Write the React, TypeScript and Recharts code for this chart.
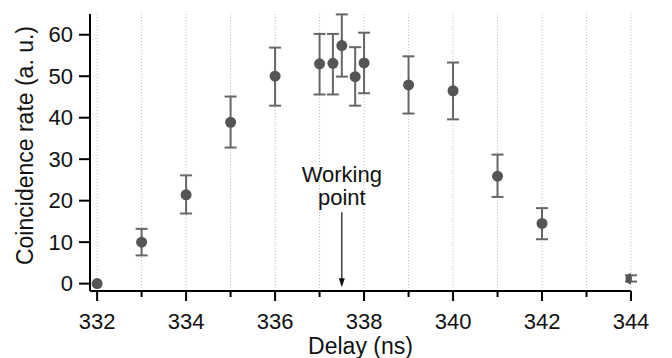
import React from 'react';
import { ComposedChart, Scatter, XAxis, YAxis, CartesianGrid, ErrorBar, ReferenceLine } from 'recharts';

const delays = [332, 333, 334, 335, 336, 337, 337.3, 337.5, 337.8, 338, 339, 340, 341, 342, 344];
const rates = [0, 10, 21.4, 38.9, 50, 53, 53.1, 57.4, 49.9, 53.2, 47.9, 46.5, 25.9, 14.5, 1.2];
const lowerBound = [0, 6.8, 16.9, 32.8, 42.9, 45.6, 45.6, 49.9, 42.9, 45.9, 41, 39.6, 20.9, 10.7, 0.5];
const upperBound = [0, 13.2, 26.1, 45.1, 56.9, 60.2, 60.2, 64.9, 57, 60.5, 54.8, 53.3, 31.1, 18.2, 2.0];
const xTicks = [332, 333, 334, 335, 336, 337, 338, 339, 340, 341, 342, 343, 344];
const yTicks = [0, 10, 20, 30, 40, 50, 60];
const workingPoint = 337.5;
const annotationLines = ['Working', 'point'];

const data = delays.map((d, i) => ({
  delay: d,
  rate: rates[i],
  err: upperBound[i] - lowerBound[i] > 0 ? [rates[i] - lowerBound[i], upperBound[i] - rates[i]] : null,
}));

const FONT = 'Arial, "Liberation Sans", sans-serif';

const XTick = (props: any) => {
  const { x, y, payload } = props;
  const v = payload.value;
  const major = v % 2 === 0;
  return (
    <g>
      <line x1={x} x2={x} y1={y} y2={y + (major ? 10 : 6)} stroke="#000" strokeWidth={2} />
      {major && (
        <text x={x} y={y + 30} textAnchor="middle" dominantBaseline="central" fontSize={22} fontFamily={FONT} fill="#111">
          {v}
        </text>
      )}
    </g>
  );
};

const YTick = (props: any) => {
  const { x, y, payload } = props;
  return (
    <g>
      <line x1={x - 11} x2={x} y1={y} y2={y} stroke="#000" strokeWidth={2} />
      <text x={x - 17} y={y} textAnchor="end" dominantBaseline="central" fontSize={22} fontFamily={FONT} fill="#111">
        {payload.value}
      </text>
    </g>
  );
};

const XLabel = (props: any) => {
  const vb = props.viewBox;
  return (
    <text x={vb.x + vb.width / 2} y={vb.y + 55} textAnchor="middle" dominantBaseline="central" fontSize={23} fontFamily={FONT} fill="#111">
      Delay (ns)
    </text>
  );
};

const YLabel = (props: any) => {
  const vb = props.viewBox;
  const cx = 25;
  const cy = vb.y + vb.height / 2 - 7;
  return (
    <text x={cx} y={cy} transform={`rotate(-90 ${cx} ${cy})`} textAnchor="middle" dominantBaseline="central" fontSize={23} fontFamily={FONT} fill="#111">
      Coincidence rate (a. u.)
    </text>
  );
};

const Dot = (props: any) => <circle cx={props.cx} cy={props.cy} r={5.5} fill="#555" />;

const Arrow = (props: any) => {
  const { x1, y1, x2, y2 } = props;
  return (
    <g>
      <line x1={x1} y1={y1} x2={x2} y2={y2 - 6} stroke="#111" strokeWidth={1.2} />
      <polygon points={`${x2 - 3},${y2 - 9} ${x2 + 3},${y2 - 9} ${x2},${y2}`} fill="#111" />
      <text x={x1} y={y1 - 30} textAnchor="middle" fontSize={22} fontFamily={FONT} fill="#111">
        {annotationLines[0]}
      </text>
      <text x={x1} y={y1 - 7} textAnchor="middle" fontSize={22} fontFamily={FONT} fill="#111">
        {annotationLines[1]}
      </text>
    </g>
  );
};

export default function App() {
  return (
    <div style={{ position: 'absolute', left: 0, top: 0, background: '#fff' }}>
      <ComposedChart width={672} height={358} data={data} margin={{ top: 14, right: 41, bottom: 0, left: 0 }}>
        <CartesianGrid horizontal={false} stroke="#bbb" strokeDasharray="1 2" />
        <XAxis
          dataKey="delay"
          type="number"
          domain={[331.84, 344]}
          ticks={xTicks}
          interval={0}
          allowDataOverflow
          height={67}
          tickSize={0}
          tickMargin={0}
          tick={<XTick />}
          axisLine={{ stroke: '#000', strokeWidth: 2 }}
          label={<XLabel />}
        />
        <YAxis
          type="number"
          domain={[-1.78, 65]}
          ticks={yTicks}
          allowDataOverflow
          width={90}
          tickSize={0}
          tickMargin={0}
          tick={<YTick />}
          axisLine={{ stroke: '#000', strokeWidth: 2 }}
          label={<YLabel />}
        />
        <ReferenceLine
          segment={[{ x: workingPoint, y: 17.2 }, { x: workingPoint, y: -0.9 }]}
          shape={<Arrow />}
          ifOverflow="visible"
        />
        <Scatter dataKey="rate" shape={<Dot />} isAnimationActive={false}>
          <ErrorBar dataKey="err" direction="y" width={6} stroke="#666" strokeWidth={2} />
        </Scatter>
      </ComposedChart>
    </div>
  );
}
